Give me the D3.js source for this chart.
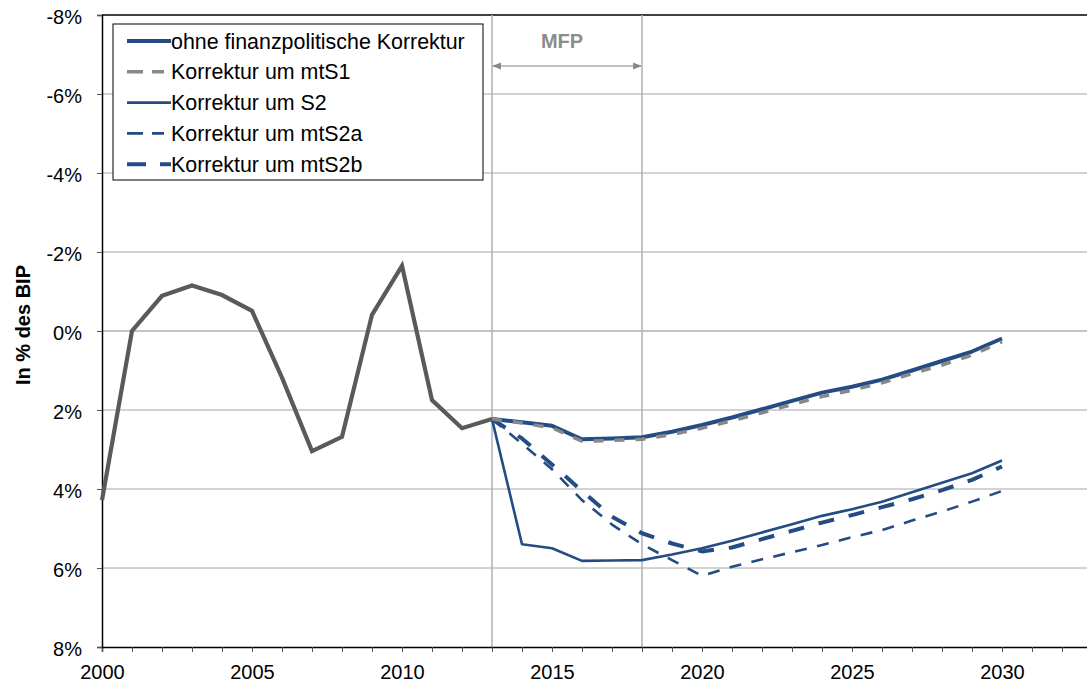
<!DOCTYPE html>
<html><head><meta charset="utf-8">
<script src="https://cdn.jsdelivr.net/npm/d3@7/dist/d3.min.js"></script>
<style>
body{margin:0;background:#fff;}
text{font-family:"Liberation Sans",Arial,sans-serif;}
</style></head>
<body><svg id="c" width="1087" height="685"></svg>
<script>
const histYears = d3.range(2000, 2014);
const histVals = [4.28, 0.0, -0.89, -1.15, -0.91, -0.51, 1.18, 3.04, 2.68, -0.41, -1.65, 1.75, 2.46, 2.23];
const projYears = d3.range(2013, 2031);
const ohne  = [2.23, 2.31, 2.40, 2.74, 2.72, 2.69, 2.55, 2.38, 2.19, 1.98, 1.77, 1.56, 1.41, 1.23, 1.00, 0.76, 0.52, 0.19];
const mtS1  = [2.23, 2.33, 2.45, 2.79, 2.77, 2.74, 2.62, 2.46, 2.27, 2.07, 1.86, 1.66, 1.50, 1.31, 1.08, 0.86, 0.61, 0.27];
const s2    = [2.23, 5.40, 5.50, 5.82, 5.81, 5.80, 5.66, 5.50, 5.31, 5.10, 4.89, 4.68, 4.51, 4.32, 4.08, 3.84, 3.60, 3.28];
const mtS2a = [2.23, 2.85, 3.50, 4.28, 4.90, 5.40, 5.80, 6.20, 5.97, 5.78, 5.60, 5.42, 5.22, 5.04, 4.80, 4.57, 4.32, 4.05];
const mtS2b = [2.23, 2.72, 3.38, 4.05, 4.70, 5.12, 5.38, 5.58, 5.48, 5.27, 5.06, 4.85, 4.66, 4.46, 4.26, 4.03, 3.77, 3.43];
const yTicks = [-8, -6, -4, -2, 0, 2, 4, 6, 8];
const xTickLabels = [2000, 2005, 2010, 2015, 2020, 2025, 2030];
const legendLabels = ["ohne finanzpolitische Korrektur", "Korrektur um mtS1", "Korrektur um S2", "Korrektur um mtS2a", "Korrektur um mtS2b"];

const svg = d3.select("#c");
const x = d3.scaleLinear().domain([2000, 2033]).range([102, 1092]);
const y = d3.scaleLinear().domain([-8, 8]).range([15, 647]);
const blue = "#234C85";
const FF = "Liberation Sans, Arial, sans-serif";

// gridlines
svg.append("g").selectAll("line").data(yTicks.filter(v => v !== 8)).join("line")
  .attr("x1", x(2000)).attr("x2", 1087)
  .attr("y1", d => y(d)).attr("y2", d => y(d))
  .attr("stroke", d => d === -8 ? "#000" : (d === 0 ? "#8a8a8a" : "#a6a6a6"))
  .attr("stroke-width", d => d === -8 ? 1.3 : 1);

// MFP vertical lines
svg.append("g").selectAll("line").data([2013, 2018]).join("line")
  .attr("x1", d => x(d)).attr("x2", d => x(d))
  .attr("y1", y(-8)).attr("y2", y(8))
  .attr("stroke", "#b0b0b0").attr("stroke-width", 1.5);

// axes
const xAxis = d3.axisBottom(x).tickValues(d3.range(2000, 2034)).tickSize(5)
  .tickFormat(d => xTickLabels.includes(d) ? String(d) : "");
const gx = svg.append("g").attr("transform", `translate(0,${y(8)})`).call(xAxis);
gx.select(".domain").attr("stroke", "#000").attr("stroke-width", 1.5);
gx.selectAll(".tick line").attr("stroke", "#555");
gx.selectAll("text").attr("font-size", 20).attr("fill", "#000").attr("y", 32).attr("dy", 0)
  .attr("font-family", FF);

const yAxis = d3.axisLeft(y).tickValues(yTicks).tickSize(5).tickFormat(d => d + "%");
const gy = svg.append("g").attr("transform", `translate(${x(2000)},0)`).call(yAxis);
gy.select(".domain").attr("stroke", "#000").attr("stroke-width", 1.5);
gy.selectAll(".tick line").attr("stroke", "#555");
gy.selectAll("text").attr("font-size", 20).attr("fill", "#000").attr("x", -20).attr("dy", "0.4em")
  .attr("font-family", FF);

svg.append("text").attr("transform", `translate(30,325) rotate(-90)`)
  .attr("text-anchor", "middle").attr("font-size", 20).attr("font-weight", "bold")
  .text("In % des BIP");

// series
const line = d3.line().x(d => x(d[0])).y(d => y(d[1]));
const series = [
  {vals: mtS2a, color: blue, w: 2.6, dash: "12,10.5"},
  {vals: s2, color: blue, w: 2.6, dash: null},
  {vals: mtS2b, color: blue, w: 4, dash: "16,15"},
  {vals: ohne, color: blue, w: 4, dash: null},
  {vals: mtS1, color: "#888888", w: 3.5, dash: "10,11"}
];
series.forEach(s => {
  svg.append("path").datum(projYears.map((yr, i) => [yr, s.vals[i]]))
    .attr("d", line).attr("fill", "none").attr("stroke", s.color)
    .attr("stroke-width", s.w).attr("stroke-dasharray", s.dash)
    .attr("stroke-linejoin", "round");
});
svg.append("path").datum(histYears.map((yr, i) => [yr, histVals[i]]))
  .attr("d", line).attr("fill", "none").attr("stroke", "#5a5a5a")
  .attr("stroke-width", 4.2).attr("stroke-linejoin", "miter");

// MFP annotation
const defs = svg.append("defs");
defs.append("marker").attr("id", "ah").attr("viewBox", "0 0 10 10").attr("refX", 9).attr("refY", 5)
  .attr("markerWidth", 9).attr("markerHeight", 9).attr("orient", "auto-start-reverse")
  .attr("markerUnits", "userSpaceOnUse")
  .append("path").attr("d", "M0,1 L10,5 L0,9 Z").attr("fill", "#888");
svg.append("line").attr("x1", x(2013) + 1).attr("x2", x(2018) - 1).attr("y1", 66).attr("y2", 66)
  .attr("stroke", "#888").attr("stroke-width", 1.2)
  .attr("marker-start", "url(#ah)").attr("marker-end", "url(#ah)");
svg.append("text").attr("x", 562).attr("y", 48).attr("text-anchor", "middle")
  .attr("font-size", 20).attr("font-weight", "bold").attr("fill", "#8c8c8c").text("MFP");

// legend
const lg = svg.append("g");
lg.append("rect").attr("x", 113).attr("y", 24).attr("width", 370).attr("height", 156)
  .attr("fill", "#fff").attr("stroke", "#000").attr("stroke-width", 1);
const legStyles = [
  {color: blue, w: 4, dash: null, x2: 171},
  {color: "#888888", w: 3.5, dash: "16,9", x2: 164},
  {color: blue, w: 2.6, dash: null, x2: 171},
  {color: blue, w: 2.6, dash: "16,9", x2: 164},
  {color: blue, w: 4, dash: "19,14", x2: 171}
];
legendLabels.forEach((lab, i) => {
  const yy = 41 + i * 30.8;
  lg.append("line").attr("x1", 127).attr("x2", legStyles[i].x2).attr("y1", yy).attr("y2", yy)
    .attr("stroke", legStyles[i].color).attr("stroke-width", legStyles[i].w)
    .attr("stroke-dasharray", legStyles[i].dash);
  lg.append("text").attr("x", 171).attr("y", yy + 7.5).attr("font-size", 21.4).attr("fill", "#000").text(lab);
});
</script></body></html>
